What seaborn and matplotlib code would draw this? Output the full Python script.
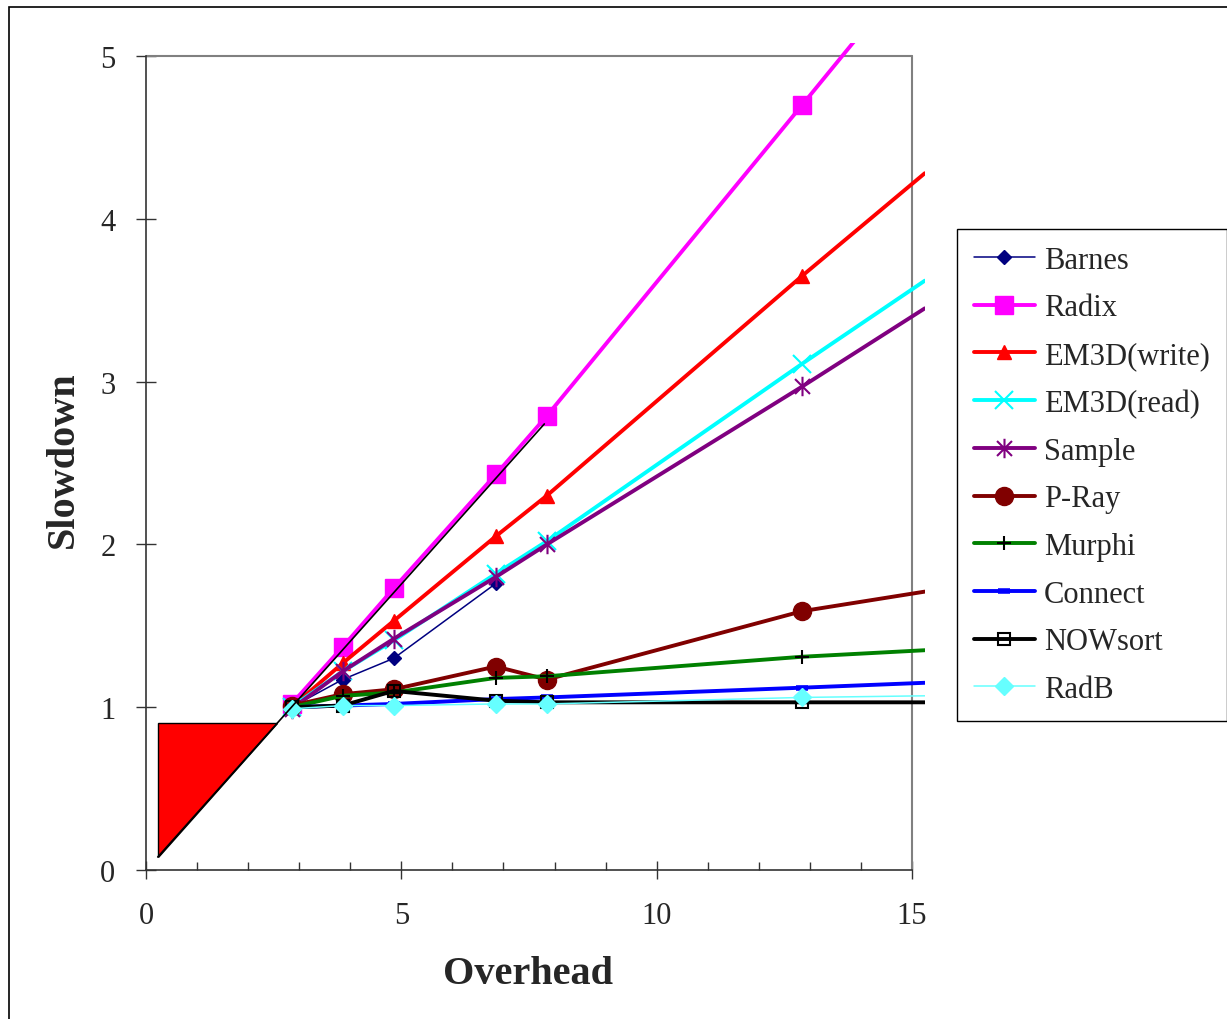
import matplotlib
matplotlib.use("Agg")
import matplotlib.pyplot as plt
import seaborn as sns
from matplotlib.path import Path
from matplotlib.patches import Rectangle

# -------------------------------------------------
# Data
# -------------------------------------------------
overhead = [2.85, 3.85, 4.85, 6.85, 7.85, 12.85, 15.25]   # last point = right edge of the frame

barnes = [1.00, 1.17, 1.30, 1.76]
radix = [1.02, 1.37, 1.73, 2.43, 2.79, 4.70, 5.62]
em3d_write = [1.00, 1.27, 1.53, 2.05, 2.30, 3.65, 4.28]
em3d_read = [1.00, 1.22, 1.41, 1.82, 2.02, 3.11, 3.62]
sample = [0.99, 1.22, 1.42, 1.80, 2.00, 2.97, 3.45]
pray = [1.01, 1.08, 1.11, 1.25, 1.17, 1.59, 1.71]
murphi = [1.00, 1.07, 1.09, 1.18, 1.19, 1.31, 1.35]
connect = [1.00, 1.01, 1.02, 1.05, 1.06, 1.12, 1.15]
nowsort = [1.00, 1.01, 1.10, 1.04, 1.03, 1.03, 1.03]
radb = [0.99, 1.01, 1.01, 1.02, 1.02, 1.06, 1.07]

names = ["Barnes", "Radix", "EM3D(write)", "EM3D(read)", "Sample",
         "P-Ray", "Murphi", "Connect", "NOWsort", "RadB"]
series = [barnes, radix, em3d_write, em3d_read, sample,
          pray, murphi, connect, nowsort, radb]

# ideal line and shaded region
diag_x = [0.23, 7.8]
diag_y = [0.08, 2.74]
tri_x = [0.23, 0.23, 2.565]
tri_y = [0.08, 0.90, 0.90]

x_ticks = [0, 5, 10, 15]
y_ticks = [0, 1, 2, 3, 4, 5]

# Excel style asterisk: X plus vertical bar
asterisk = Path(
    [(-1, -1), (1, 1), (-1, 1), (1, -1), (0, -1.3), (0, 1.3)],
    [Path.MOVETO, Path.LINETO, Path.MOVETO, Path.LINETO, Path.MOVETO, Path.LINETO],
)

THICK = 2.8
THIN = 1.1

styles = {
    "Barnes": dict(color="#000080", marker="D", ms=7, lw=THIN, mfc="#000080", mec="#000080", mew=1),
    "Radix": dict(color="#FF00FF", marker="s", ms=13, lw=THICK, mfc="#FF00FF", mec="#FF00FF", mew=1),
    "EM3D(write)": dict(color="#FF0000", marker="^", ms=10, lw=THICK, mfc="#FF0000", mec="#FF0000", mew=1),
    "EM3D(read)": dict(color="#00FFFF", marker="x", ms=13, lw=THICK, mfc="none", mec="#00FFFF", mew=1.5),
    "Sample": dict(color="#800080", marker=asterisk, ms=14, lw=THICK, mfc="none", mec="#800080", mew=1.5),
    "P-Ray": dict(color="#800000", marker="o", ms=13, lw=THICK, mfc="#800000", mec="#800000", mew=1),
    "Murphi": dict(color="#008000", marker="+", ms=10, lw=THICK, mfc="none", mec="black", mew=1.5),
    "Connect": dict(color="#0000FF", marker="_", ms=9, lw=THICK, mfc="#0000FF", mec="#0000FF", mew=4),
    "NOWsort": dict(color="black", marker="s", ms=8, lw=THICK, mfc="none", mec="black", mew=1.5),
    "RadB": dict(color="#66FFFF", marker="D", ms=9, lw=THIN, mfc="#66FFFF", mec="#66FFFF", mew=1),
}

# -------------------------------------------------
# Figure
# -------------------------------------------------
sns.set_style("ticks")
plt.rcParams["font.family"] = ["Liberation Serif", "DejaVu Serif"]

fig = plt.figure(figsize=(12.27, 10.2), dpi=100)
ax = fig.add_axes([146 / 1227, 149 / 1020, 778.8 / 1227, 827 / 1020])

# shaded triangle + ideal line
ax.fill(tri_x, tri_y, facecolor="#FF0000", edgecolor="black", lw=1.0, zorder=2)

for name, ys in zip(names, series):
    st = styles[name]
    n = len(ys)
    xs = overhead[:n]
    marks = list(range(min(n, 6)))
    sns.lineplot(
        x=xs, y=ys, ax=ax, sort=False, label=name,
        color=st["color"], lw=st["lw"], marker=st["marker"],
        markersize=st["ms"], markerfacecolor=st["mfc"],
        markeredgecolor=st["mec"], markeredgewidth=st["mew"],
        markevery=marks, zorder=3,
    )

ax.plot(diag_x, diag_y, color="black", lw=1.2, zorder=4)

# plot frame (Excel plot-area border)
ax.set_xlim(0, 15.25)
ax.set_ylim(0, 5.08)
ax.axhline(5, xmin=0, xmax=15 / 15.25, color="#808080", lw=1.5, zorder=1)
ax.axvline(15, ymin=0, ymax=5 / 5.08, color="#808080", lw=1.5, zorder=1)

for side in ["top", "right"]:
    ax.spines[side].set_visible(False)
ax.spines["left"].set_bounds(0, 5)
ax.spines["bottom"].set_bounds(0, 15)
for side in ["left", "bottom"]:
    ax.spines[side].set_color("#333333")
    ax.spines[side].set_linewidth(1.2)

ax.set_xticks(x_ticks)
ax.set_xticks(range(1, 15), minor=True)
ax.set_yticks(y_ticks)
ax.set_xticklabels([str(t) for t in x_ticks])
ax.set_yticklabels([str(t) for t in y_ticks])
ax.tick_params(axis="x", which="major", direction="inout", length=13, width=1,
               pad=16, labelsize=22, color="#333333")
ax.tick_params(axis="x", which="minor", direction="in", length=6, width=1, color="#333333")
ax.tick_params(axis="y", direction="inout", length=14, width=1,
               pad=15, labelsize=22, color="#333333")

ax.set_xlabel("Overhead", fontsize=29, fontweight="bold")
ax.set_ylabel("Slowdown", fontsize=29, fontweight="bold")
ax.xaxis.set_label_coords((528 - 146) / 778.8, (871 - 956) / 827)
ax.yaxis.set_label_coords((82 - 146) / 778.8, (871 - 460) / 827)

leg = ax.legend(
    loc="upper left", bbox_to_anchor=(957 / 1227, 1 - 230 / 1020),
    bbox_transform=fig.transFigure, fontsize=22, frameon=True,
    fancybox=False, edgecolor="black", framealpha=1, numpoints=1,
    handlelength=2.0, handletextpad=0.3, labelspacing=0.61,
    borderpad=0.55, borderaxespad=0,
)
leg.get_frame().set_linewidth(1.0)

# outer chart border
fig.patches.append(Rectangle((9 / 1227, -0.05), 1.2, 1.05 - 8 / 1020,
                             transform=fig.transFigure, fill=False,
                             edgecolor="black", lw=1.2))

fig.savefig("out.png", dpi=100, facecolor="white")
